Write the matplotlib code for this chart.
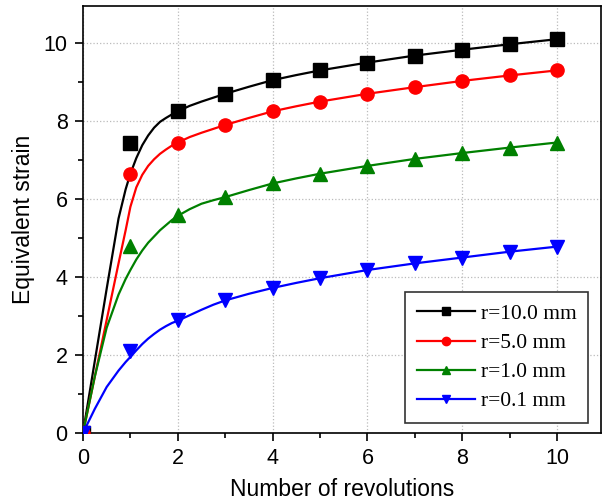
import matplotlib
matplotlib.use("Agg")
import matplotlib.pyplot as plt
from matplotlib.lines import Line2D
from matplotlib.ticker import MultipleLocator

# ── Data: markers at each revolution ───────────────────────────
revs = [0, 1, 2, 3, 4, 5, 6, 7, 8, 9, 10]
strain_r10 = [0, 7.45, 8.25, 8.70, 9.05, 9.30, 9.50, 9.68, 9.83, 9.97, 10.10]
strain_r5 = [0, 6.65, 7.45, 7.90, 8.25, 8.50, 8.70, 8.87, 9.03, 9.17, 9.30]
strain_r1 = [0, 4.80, 5.60, 6.05, 6.40, 6.65, 6.85, 7.03, 7.18, 7.32, 7.45]
strain_r01 = [0, 2.10, 2.90, 3.40, 3.72, 3.97, 4.18, 4.35, 4.50, 4.65, 4.78]

# ── Data: fitted curves ────────────────────────────────────────
fit_x = [0, 0.25, 0.5, 0.75, 0.9, 1.0, 1.125, 1.25, 1.375, 1.5, 1.625,
         1.75, 1.875, 2.0, 2.25, 2.5, 2.75, 3.0, 3.5, 4.0, 4.5, 5.0, 6.0,
         7.0, 8.0, 9.0, 10.0]
fit_r10 = [0, 1.85, 3.7, 5.5, 6.25, 6.65, 7.05, 7.38, 7.63, 7.83, 7.98,
           8.08, 8.17, 8.25, 8.39, 8.50, 8.60, 8.70, 8.88, 9.05, 9.18,
           9.30, 9.50, 9.68, 9.83, 9.97, 10.10]
fit_r5 = [0, 1.45, 2.9, 4.35, 5.2, 5.8, 6.3, 6.62, 6.85, 7.02, 7.16,
          7.27, 7.37, 7.45, 7.59, 7.70, 7.80, 7.90, 8.08, 8.25, 8.38,
          8.50, 8.70, 8.87, 9.03, 9.17, 9.30]
fit_r1 = [0, 1.45, 2.7, 3.55, 3.95, 4.18, 4.45, 4.68, 4.88, 5.04, 5.2,
          5.33, 5.46, 5.57, 5.74, 5.88, 5.97, 6.05, 6.23, 6.40, 6.53,
          6.65, 6.85, 7.03, 7.18, 7.32, 7.45]
fit_r01 = [0, 0.62, 1.18, 1.6, 1.82, 1.95, 2.12, 2.28, 2.42, 2.54, 2.65,
           2.74, 2.82, 2.88, 3.02, 3.16, 3.29, 3.40, 3.57, 3.72, 3.85,
           3.97, 4.18, 4.35, 4.50, 4.65, 4.78]

labels = ["r=10.0 mm", "r=5.0 mm", "r=1.0 mm", "r=0.1 mm"]
colors = ["black", "red", "green", "blue"]
markers = ["s", "o", "^", "v"]

fig = plt.figure(figsize=(6.03, 5.04), dpi=100)
ax = fig.add_axes([0.1376, 0.1409, 0.8594, 0.8471])

series = [(strain_r10, fit_r10), (strain_r5, fit_r5),
          (strain_r1, fit_r1), (strain_r01, fit_r01)]
handles = []
for (pts, fit), col, mk, lab in zip(series, colors, markers, labels):
    ax.plot(fit_x, fit, color=col, lw=1.6, zorder=3)
    ax.plot(revs, pts, linestyle="none", marker=mk, color=col,
            markersize=9.5, zorder=4)
    handles.append(Line2D([0], [0], color=col, lw=1.6, marker=mk,
                          markersize=6, label=lab))

ax.set_xlim(0, 10.93)
ax.set_ylim(0, 10.95)
ax.xaxis.set_major_locator(MultipleLocator(2))
ax.xaxis.set_minor_locator(MultipleLocator(1))
ax.yaxis.set_major_locator(MultipleLocator(2))
ax.yaxis.set_minor_locator(MultipleLocator(1))
ax.tick_params(which="both", direction="out", width=1.2)
ax.tick_params(which="major", length=6, labelsize=15.5, pad=5)
ax.tick_params(which="minor", length=3.5)
for lbl in ax.get_xticklabels() + ax.get_yticklabels():
    lbl.set_fontfamily("Liberation Sans")
for sp in ax.spines.values():
    sp.set_linewidth(1.2)
ax.grid(True, which="major", linestyle=":", color="#bbbbbb", lw=0.9)

ax.set_xlabel("Number of revolutions", fontsize=16.5,
              family="Liberation Sans", labelpad=6)
ax.set_ylabel("Equivalent strain", fontsize=16.5,
              family="Liberation Sans", labelpad=6)

leg = ax.legend(handles=handles, loc="lower right",
                bbox_to_anchor=(0.975, 0.023), borderaxespad=0,
                prop={"family": "Liberation Serif", "size": 15.5},
                fancybox=False, edgecolor="#333333", framealpha=1,
                handlelength=2.7, handletextpad=0.25, labelspacing=0.42,
                borderpad=0.55)
leg.get_frame().set_linewidth(1.2)

fig.savefig("out.png", dpi=100)
